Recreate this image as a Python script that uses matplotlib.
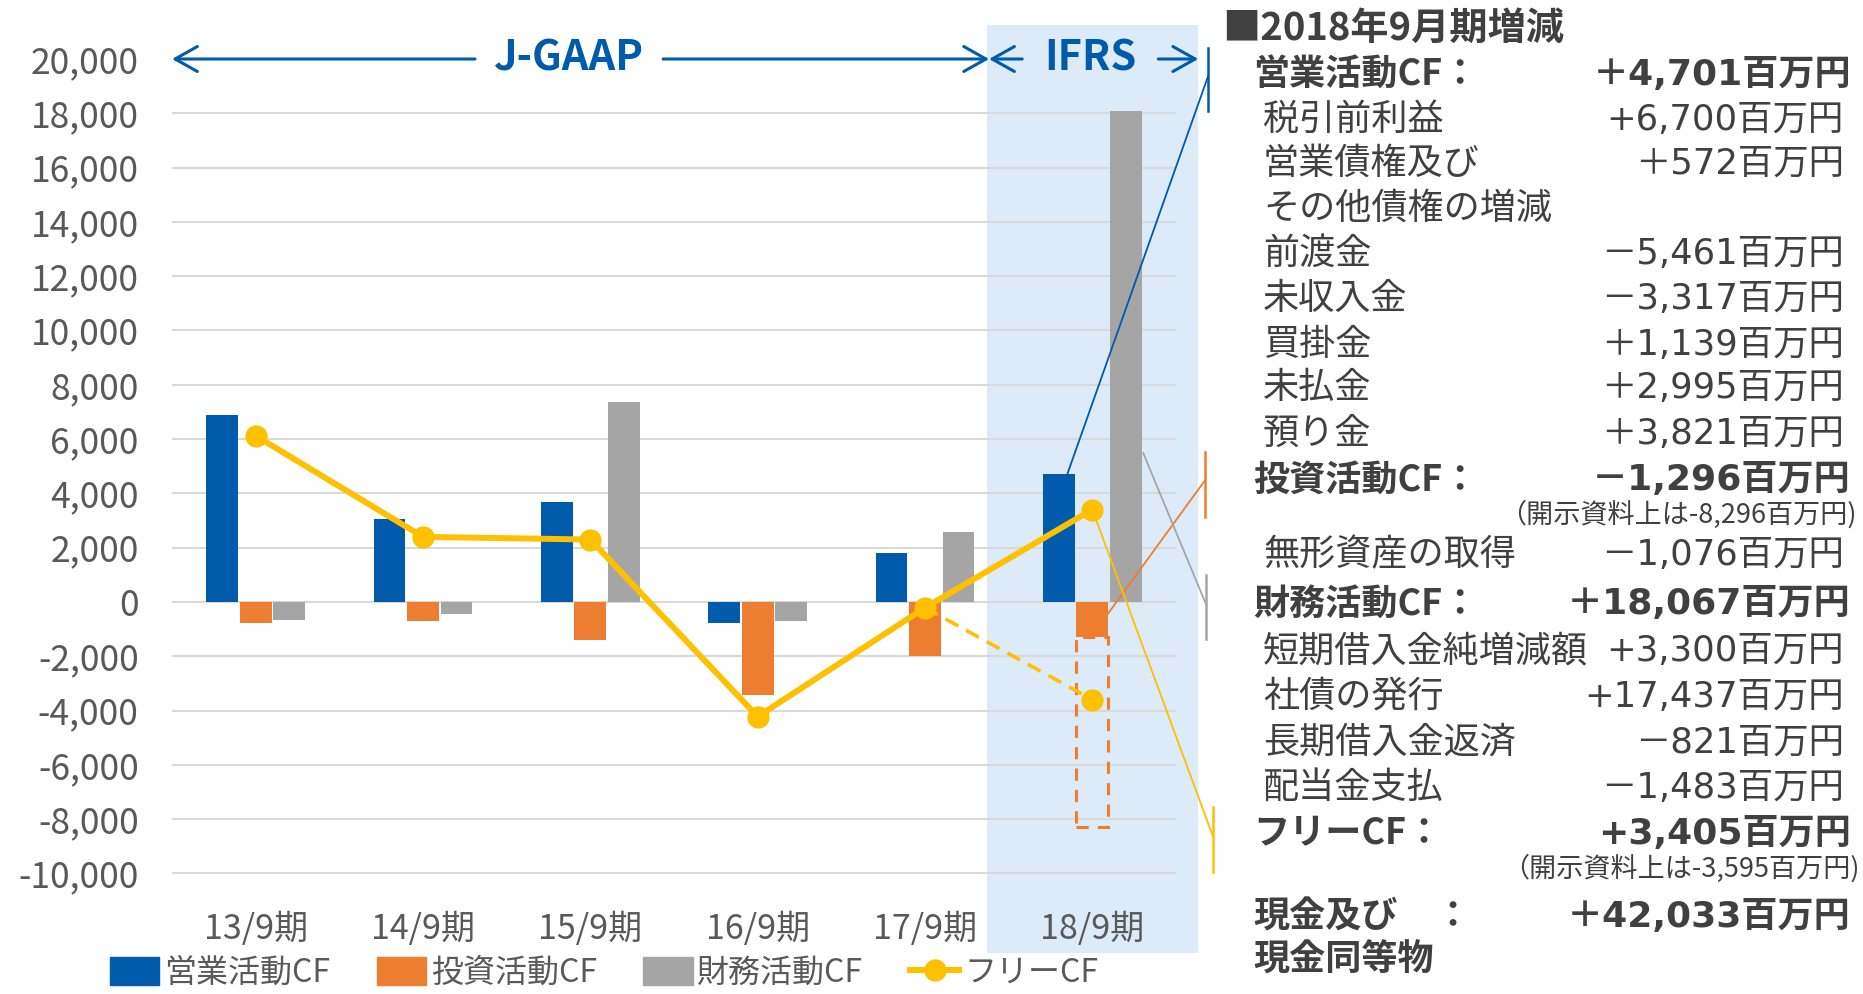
import matplotlib
matplotlib.use("Agg")
import matplotlib.pyplot as plt
import numpy as np
from matplotlib.patches import Rectangle, Patch
from matplotlib.lines import Line2D

plt.rcParams["font.family"] = ["Noto Sans CJK JP", "DejaVu Sans"]

# ---- data (百万円) ----
periods = ["13/9期", "14/9期", "15/9期", "16/9期", "17/9期", "18/9期"]
operating_cf = [6900, 3050, 3680, -780, 1790, 4701]
investing_cf = [-780, -700, -1390, -3440, -2000, -1296]
financing_cf = [-660, -440, 7350, -700, 2570, 18067]
free_cf = [6120, 2400, 2300, -4220, -210, 3405]
investing_disclosed_1809 = -8296
free_cf_disclosed_1809 = -3595

y_ticks = list(range(-10000, 20001, 2000))

BLUE = "#005BAC"
ORANGE = "#ED7D31"
GRAY = "#A5A5A5"
YELLOW = "#FFC000"
SHADE = "#DDEBF9"
TXT = "#404040"
TICK = "#595959"
NUM_FONT = ["DejaVu Sans", "Noto Sans CJK JP"]

W, H = 1863, 994
fig = plt.figure(figsize=(W / 100, H / 100), dpi=100)
ax = fig.add_axes([172 / W, 1 - 873.5 / H, (1176 - 172) / W, (873.5 - 59) / H])
ax.set_facecolor("none")

x = np.arange(len(periods))
bw = 0.19
off = 0.2

# IFRS shading
ax.add_patch(Rectangle((4.371, -12930), 5.633 - 4.371, 21250 + 12930,
                       facecolor=SHADE, edgecolor="none", zorder=0, clip_on=False))

ax.bar(x - off, operating_cf, bw, color=BLUE, zorder=3)
ax.bar(x, investing_cf, bw, color=ORANGE, zorder=3)
ax.bar(x + off, financing_cf, bw, color=GRAY, zorder=3)

# disclosed investing CF (dashed box)
last = len(periods) - 1
ax.add_patch(Rectangle((last - bw / 2, investing_disclosed_1809), bw,
                       investing_cf[-1] - investing_disclosed_1809,
                       facecolor="none", edgecolor=ORANGE, linestyle=(0, (4, 3)),
                       linewidth=2.2, zorder=4))

ax.plot(x, free_cf, color=YELLOW, linewidth=4.3, marker="o", markersize=15, zorder=5)
ax.plot([x[-2], x[-1]], [free_cf[-2], free_cf_disclosed_1809], color=YELLOW,
        linewidth=2.6, linestyle=(0, (4, 2.5)), zorder=5)
ax.plot([x[-1]], [free_cf_disclosed_1809], color=YELLOW, marker="o", markersize=15,
        linestyle="none", zorder=5)

ax.set_xlim(-0.5, len(periods) - 0.5)
ax.set_ylim(-10000, 20000)
ax.set_yticks(y_ticks)
ax.set_yticklabels([f"{v:,}" for v in y_ticks], fontsize=25.5, color=TICK)
ax.set_xticks(x)
ax.set_xticklabels(periods, fontsize=24.5, color=TICK)
ax.tick_params(axis="y", length=0, pad=24)
ax.tick_params(axis="x", length=0, pad=28)
for s in ax.spines.values():
    s.set_visible(False)
ax.yaxis.grid(True, color="#D9D9D9", linewidth=1.5, zorder=1)
ax.set_axisbelow(True)
ax.get_ygridlines()[-1].set_visible(False)

# J-GAAP / IFRS header
arrow_kw = dict(arrowstyle="->,head_length=0.8,head_width=0.45", color=BLUE, lw=2.2,
                shrinkA=0, shrinkB=0, mutation_scale=20)
top = 20000
for x0, x1 in [(1.311, -0.5), (2.435, 4.383), (4.581, 4.383), (5.394, 5.633)]:
    ax.annotate("", xy=(x1, top), xytext=(x0, top), arrowprops=arrow_kw,
                annotation_clip=False)
ax.text(1.867, top, "J-GAAP", color=BLUE, fontsize=30, fontweight="bold",
        ha="center", va="center", clip_on=False)
ax.text(4.987, top, "IFRS", color=BLUE, fontsize=30, fontweight="bold",
        ha="center", va="center", clip_on=False)

# connectors to the side panel
links = [
    (BLUE, (4.85, operating_cf[-1]), 5.692, 19370, (20400, 18085)),
    (ORANGE, (5.053, -773), 5.675, 4494, (5525, 3131)),
    (GRAY, (5.304, 5488), 5.681, -110, (994, -1363)),
    (YELLOW, (5.0, free_cf[-1]), 5.722, -8656, (-7551, -9945)),
]
for col, (sx, sy), ex, ey, (b0, b1) in links:
    ax.plot([sx, ex], [sy, ey], color=col, linewidth=1.3, zorder=6, clip_on=False)
    ax.plot([ex, ex], [b0, b1], color=col, linewidth=1.8, zorder=6, clip_on=False)

# legend
handles = [Patch(color=BLUE), Patch(color=ORANGE), Patch(color=GRAY),
           Line2D([], [], color=YELLOW, lw=4.3, marker="o", markersize=15)]
fig.legend(handles, ["営業活動CF", "投資活動CF", "財務活動CF", "フリーCF"],
           loc="center", bbox_to_anchor=(604 / W, 1 - 973 / H), ncol=4, frameon=False,
           fontsize=23, labelcolor=TICK, handlelength=1.55, handleheight=1.0,
           handletextpad=0.15, columnspacing=1.45, borderpad=0.0)

# side panel text
def ftxt(px, py, s, **kw):
    fig.text(px / W, 1 - py / H, s, color=TXT, va="center", **kw)

ftxt(1222, 28, "■2018年9月期増減", fontsize=27.5, fontweight="bold")
rows = [
    (75, "営業活動CF：", "＋4,701百万円", True),
    (120, "税引前利益", "+6,700百万円", False),
    (164, "営業債権及び", "＋572百万円", False),
    (209, "その他債権の増減", "", False),
    (254, "前渡金", "－5,461百万円", False),
    (299, "未収入金", "－3,317百万円", False),
    (345, "買掛金", "＋1,139百万円", False),
    (388, "未払金", "＋2,995百万円", False),
    (434, "預り金", "＋3,821百万円", False),
    (480, "投資活動CF：", "－1,296百万円", True),
    (555, "無形資産の取得", "－1,076百万円", False),
    (604, "財務活動CF：", "＋18,067百万円", True),
    (651, "短期借入金純増減額", "+3,300百万円", False),
    (697, "社債の発行", "+17,437百万円", False),
    (743, "長期借入金返済", "－821百万円", False),
    (788, "配当金支払", "－1,483百万円", False),
    (834, "フリーCF：", "+3,405百万円", True),
    (917, "現金及び", "＋42,033百万円", True),
    (960, "現金同等物", "", True),
]
for py, label, value, bold in rows:
    if bold:
        ftxt(1253, py, label, fontsize=26, fontweight="bold")
        if value:
            ftxt(1851, py, value, fontsize=26, fontweight="bold", ha="right",
                 family=NUM_FONT)
    else:
        ftxt(1263, py, label, fontsize=26)
        if value:
            ftxt(1844, py, value, fontsize=25.5, ha="right", family=NUM_FONT)
ftxt(1452, 917, "：", fontsize=26, fontweight="bold", ha="center")
ftxt(1857, 514, "（開示資料上は-8,296百万円)", fontsize=19.5, ha="right")
ftxt(1860, 868, "（開示資料上は-3,595百万円)", fontsize=19.5, ha="right")

fig.savefig("out.png", dpi=100)
